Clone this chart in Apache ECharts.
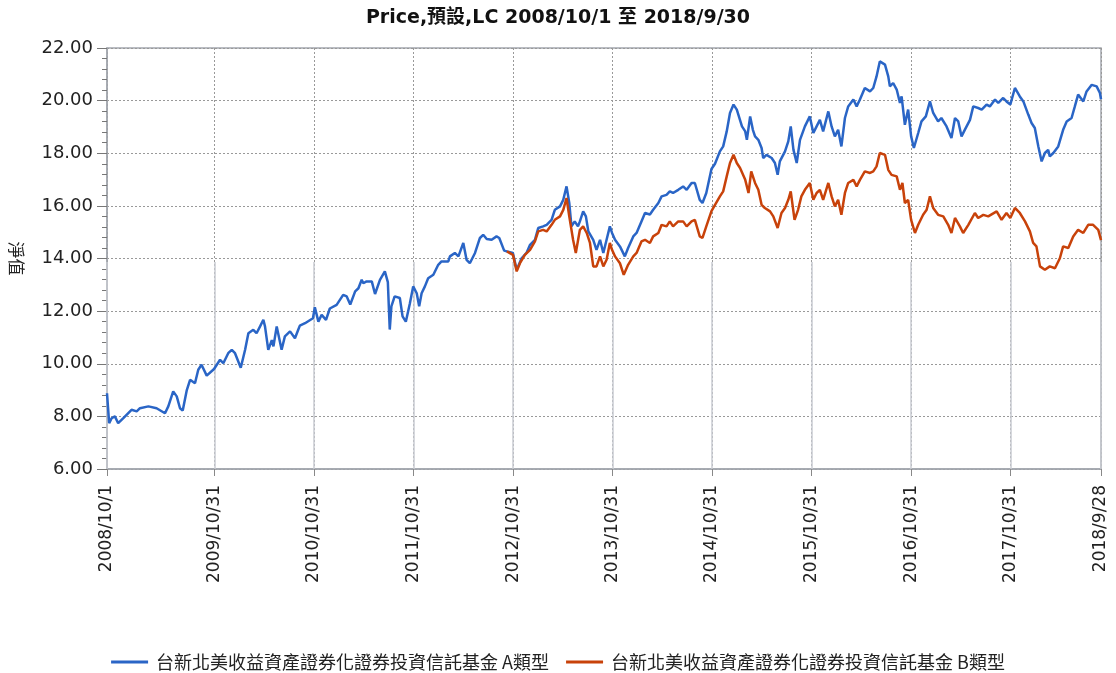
<!DOCTYPE html>
<html>
<head>
<meta charset="utf-8">
<title>Price</title>
<script src="https://cdn.jsdelivr.net/npm/echarts@6/dist/echarts.min.js"></script>
<style>
    html, body { margin: 0; padding: 0; background: #fff; }
    #chart { width: 1116px; height: 673px; }
</style>
</head>
<body>
<div id="chart"></div>
<script>
const chartTitle = 'Price,預設,LC 2008/10/1 至 2018/9/30';
const seriesNames = ['台新北美收益資產證券化證券投資信託基金 A類型', '台新北美收益資產證券化證券投資信託基金 B類型'];
const startDate = '2008/10/1';
const endDate = '2018/9/28';
const xTickDates = ['2008/10/1', '2009/10/31', '2010/10/31', '2011/10/31', '2012/10/31', '2013/10/31',
    '2014/10/31', '2015/10/31', '2016/10/31', '2017/10/31', '2018/9/28'];
const yMin = 6, yMax = 22, yStep = 2;

// A類型 net value
const navA = [
    ['2008/10/1', 8.88], ['2008/10/9', 7.74], ['2008/10/18', 7.93], ['2008/10/30', 8.0], ['2008/11/11', 7.74],
    ['2008/11/30', 7.93], ['2008/12/30', 8.25], ['2009/1/18', 8.19], ['2009/1/30', 8.31], ['2009/3/2', 8.38],
    ['2009/4/1', 8.31], ['2009/5/2', 8.12], ['2009/5/14', 8.38], ['2009/6/1', 8.95], ['2009/6/14', 8.76],
    ['2009/6/26', 8.31], ['2009/7/6', 8.22], ['2009/7/21', 9.0], ['2009/8/2', 9.39], ['2009/8/20', 9.26],
    ['2009/9/1', 9.77], ['2009/9/13', 9.96], ['2009/10/2', 9.55], ['2009/10/29', 9.8], ['2009/11/20', 10.15],
    ['2009/12/2', 10.02], ['2009/12/20', 10.4], ['2010/1/2', 10.53], ['2010/1/14', 10.4], ['2010/2/4', 9.85],
    ['2010/2/20', 10.53], ['2010/3/4', 11.16], ['2010/3/22', 11.29], ['2010/4/3', 11.16], ['2010/4/16', 11.42],
    ['2010/4/28', 11.67], ['2010/5/4', 11.42], ['2010/5/16', 10.53], ['2010/5/29', 10.9], ['2010/6/4', 10.66],
    ['2010/6/16', 11.42], ['2010/7/4', 10.53], ['2010/7/16', 11.04], ['2010/8/4', 11.23], ['2010/8/22', 10.97],
    ['2010/9/3', 11.29], ['2010/9/9', 11.45], ['2010/9/28', 11.54], ['2010/10/27', 11.73], ['2010/11/3', 12.15],
    ['2010/11/16', 11.6], ['2010/11/28', 11.86], ['2010/12/14', 11.67], ['2010/12/28', 12.1], ['2011/1/22', 12.24],
    ['2011/2/15', 12.62], ['2011/2/28', 12.56], ['2011/3/13', 12.25], ['2011/3/31', 12.75], ['2011/4/12', 12.87],
    ['2011/4/24', 13.19], ['2011/4/30', 13.06], ['2011/5/12', 13.13], ['2011/5/31', 13.13], ['2011/6/12', 12.65],
    ['2011/6/30', 13.19], ['2011/7/18', 13.51], ['2011/7/29', 13.1], ['2011/8/3', 11.8], ['2011/8/5', 11.3],
    ['2011/8/11', 12.18], ['2011/8/23', 12.56], ['2011/8/30', 12.62], ['2011/9/11', 12.5], ['2011/9/21', 11.8],
    ['2011/10/3', 11.6], ['2011/10/18', 12.3], ['2011/10/30', 12.94], ['2011/11/12', 12.68], ['2011/11/21', 12.18],
    ['2011/11/30', 12.68], ['2011/12/12', 12.94], ['2011/12/24', 13.25], ['2012/1/12', 13.38], ['2012/1/30', 13.76],
    ['2012/2/11', 13.89], ['2012/3/7', 13.89], ['2012/3/13', 14.08], ['2012/3/31', 14.21], ['2012/4/13', 14.08],
    ['2012/5/1', 14.59], ['2012/5/13', 13.95], ['2012/5/25', 13.82], ['2012/6/13', 14.21], ['2012/7/1', 14.78],
    ['2012/7/13', 14.9], ['2012/7/26', 14.74], ['2012/8/13', 14.71], ['2012/8/31', 14.84], ['2012/9/10', 14.78],
    ['2012/9/28', 14.3], ['2012/10/8', 14.27], ['2012/10/30', 14.21], ['2012/11/13', 13.57], ['2012/12/1', 14.01],
    ['2012/12/19', 14.21], ['2013/1/1', 14.52], ['2013/1/19', 14.71], ['2013/1/31', 15.16], ['2013/2/18', 15.22],
    ['2013/3/3', 15.28], ['2013/3/21', 15.47], ['2013/4/2', 15.85], ['2013/4/21', 15.98], ['2013/5/3', 16.23],
    ['2013/5/15', 16.74], ['2013/5/25', 16.11], ['2013/6/2', 15.22], ['2013/6/14', 15.41], ['2013/6/26', 15.22],
    ['2013/7/3', 15.41], ['2013/7/15', 15.79], ['2013/7/25', 15.6], ['2013/8/3', 15.03], ['2013/8/21', 14.71],
    ['2013/9/2', 14.33], ['2013/9/15', 14.71], ['2013/9/27', 14.21], ['2013/10/9', 14.71], ['2013/10/21', 15.22],
    ['2013/10/29', 14.97], ['2013/11/9', 14.71], ['2013/11/27', 14.46], ['2013/12/15', 14.08], ['2013/12/27', 14.4],
    ['2014/1/15', 14.84], ['2014/1/27', 14.97], ['2014/2/14', 15.41], ['2014/2/27', 15.73], ['2014/3/17', 15.67],
    ['2014/3/29', 15.85], ['2014/4/17', 16.11], ['2014/4/29', 16.36], ['2014/5/17', 16.42], ['2014/5/29', 16.55],
    ['2014/6/10', 16.49], ['2014/6/29', 16.61], ['2014/7/17', 16.74], ['2014/7/30', 16.61], ['2014/8/17', 16.87],
    ['2014/8/29', 16.87], ['2014/9/16', 16.23], ['2014/9/26', 16.11], ['2014/10/10', 16.49], ['2014/10/29', 17.4],
    ['2014/11/11', 17.6], ['2014/11/29', 18.07], ['2014/12/11', 18.26], ['2014/12/24', 18.83], ['2015/1/5', 19.53],
    ['2015/1/18', 19.85], ['2015/1/30', 19.66], ['2015/2/18', 19.02], ['2015/3/2', 18.83], ['2015/3/8', 18.51],
    ['2015/3/20', 19.4], ['2015/3/30', 18.89], ['2015/4/7', 18.64], ['2015/4/19', 18.51], ['2015/5/1', 18.2],
    ['2015/5/7', 17.82], ['2015/5/19', 17.94], ['2015/6/7', 17.82], ['2015/6/19', 17.63], ['2015/6/29', 17.18],
    ['2015/7/7', 17.69], ['2015/7/26', 18.07], ['2015/8/7', 18.45], ['2015/8/16', 19.02], ['2015/8/26', 18.13],
    ['2015/9/7', 17.63], ['2015/9/19', 18.51], ['2015/10/7', 19.02], ['2015/10/25', 19.4], ['2015/11/7', 18.77],
    ['2015/11/19', 19.02], ['2015/12/1', 19.27], ['2015/12/13', 18.83], ['2016/1/1', 19.59], ['2016/1/13', 19.02],
    ['2016/1/25', 18.64], ['2016/2/6', 18.89], ['2016/2/18', 18.26], ['2016/3/2', 19.34], ['2016/3/14', 19.78],
    ['2016/4/2', 20.04], ['2016/4/14', 19.78], ['2016/4/26', 20.04], ['2016/5/14', 20.48], ['2016/6/2', 20.35],
    ['2016/6/14', 20.48], ['2016/6/26', 20.92], ['2016/7/8', 21.49], ['2016/7/14', 21.56], ['2016/7/27', 21.37],
    ['2016/8/8', 20.92], ['2016/8/14', 20.54], ['2016/8/26', 20.67], ['2016/9/8', 20.42], ['2016/9/20', 19.91],
    ['2016/9/26', 20.16], ['2016/10/8', 19.08], ['2016/10/20', 19.66], ['2016/10/31', 18.64], ['2016/11/10', 18.2],
    ['2016/11/26', 18.77], ['2016/12/8', 19.21], ['2016/12/24', 19.4], ['2017/1/8', 19.97], ['2017/1/20', 19.53],
    ['2017/2/7', 19.21], ['2017/2/19', 19.34], ['2017/3/10', 19.02], ['2017/3/28', 18.58], ['2017/4/10', 19.34],
    ['2017/4/22', 19.21], ['2017/5/4', 18.64], ['2017/5/16', 18.89], ['2017/6/4', 19.27], ['2017/6/16', 19.78],
    ['2017/7/4', 19.72], ['2017/7/17', 19.66], ['2017/8/4', 19.85], ['2017/8/16', 19.78], ['2017/9/4', 20.04],
    ['2017/9/16', 19.91], ['2017/10/4', 20.1], ['2017/10/16', 19.97], ['2017/10/30', 19.85], ['2017/11/16', 20.48],
    ['2017/12/4', 20.16], ['2017/12/17', 19.97], ['2018/1/4', 19.47], ['2018/1/16', 19.15], ['2018/1/28', 18.96],
    ['2018/2/10', 18.26], ['2018/2/22', 17.69], ['2018/3/6', 18.01], ['2018/3/18', 18.13], ['2018/3/24', 17.88],
    ['2018/4/6', 18.01], ['2018/4/24', 18.26], ['2018/5/12', 18.89], ['2018/5/25', 19.21], ['2018/6/12', 19.34],
    ['2018/6/24', 19.78], ['2018/7/6', 20.23], ['2018/7/25', 19.97], ['2018/8/6', 20.35], ['2018/8/25', 20.6],
    ['2018/9/12', 20.54], ['2018/9/24', 20.29], ['2018/9/28', 20.05]
];

// B類型 net value (starts Oct 2012)
const navB = [
    ['2012/10/8', 14.27], ['2012/10/30', 14.14], ['2012/11/13', 13.51], ['2012/11/25', 13.82], ['2012/12/13', 14.14],
    ['2013/1/1', 14.33], ['2013/1/19', 14.65], ['2013/1/31', 15.03], ['2013/2/18', 15.09], ['2013/3/3', 15.03],
    ['2013/3/21', 15.28], ['2013/4/2', 15.47], ['2013/4/21', 15.6], ['2013/5/3', 15.85], ['2013/5/15', 16.3],
    ['2013/5/25', 15.6], ['2013/6/8', 14.71], ['2013/6/18', 14.21], ['2013/7/3', 15.09], ['2013/7/15', 15.22],
    ['2013/7/28', 14.97], ['2013/8/9', 14.59], ['2013/8/21', 13.7], ['2013/9/2', 13.7], ['2013/9/15', 14.08],
    ['2013/9/27', 13.7], ['2013/10/9', 13.95], ['2013/10/21', 14.59], ['2013/10/29', 14.33], ['2013/11/9', 14.08],
    ['2013/11/27', 13.82], ['2013/12/11', 13.38], ['2013/12/27', 13.76], ['2014/1/15', 14.08], ['2014/1/27', 14.21],
    ['2014/2/14', 14.65], ['2014/2/27', 14.71], ['2014/3/17', 14.59], ['2014/3/29', 14.84], ['2014/4/17', 14.97],
    ['2014/4/29', 15.28], ['2014/5/17', 15.22], ['2014/5/29', 15.41], ['2014/6/10', 15.22], ['2014/6/29', 15.41],
    ['2014/7/17', 15.41], ['2014/7/30', 15.22], ['2014/8/17', 15.41], ['2014/8/29', 15.47], ['2014/9/16', 14.84],
    ['2014/9/26', 14.78], ['2014/10/10', 15.22], ['2014/10/29', 15.8], ['2014/11/11', 16.04], ['2014/11/29', 16.36],
    ['2014/12/11', 16.55], ['2014/12/24', 17.12], ['2015/1/5', 17.63], ['2015/1/18', 17.94], ['2015/1/30', 17.63],
    ['2015/2/11', 17.44], ['2015/3/2', 16.99], ['2015/3/14', 16.49], ['2015/3/24', 17.31], ['2015/4/7', 16.87],
    ['2015/4/19', 16.61], ['2015/5/1', 16.04], ['2015/5/13', 15.92], ['2015/6/1', 15.79], ['2015/6/13', 15.6],
    ['2015/6/29', 15.16], ['2015/7/13', 15.73], ['2015/7/26', 15.92], ['2015/8/7', 16.23], ['2015/8/16', 16.55],
    ['2015/8/30', 15.47], ['2015/9/12', 15.85], ['2015/9/24', 16.36], ['2015/10/7', 16.61], ['2015/10/25', 16.87],
    ['2015/11/7', 16.23], ['2015/11/19', 16.49], ['2015/12/1', 16.61], ['2015/12/13', 16.23], ['2016/1/1', 16.87],
    ['2016/1/13', 16.36], ['2016/1/25', 15.98], ['2016/2/6', 16.23], ['2016/2/18', 15.66], ['2016/3/2', 16.49],
    ['2016/3/14', 16.87], ['2016/4/2', 16.99], ['2016/4/14', 16.74], ['2016/4/26', 16.99], ['2016/5/14', 17.31],
    ['2016/6/2', 17.25], ['2016/6/14', 17.31], ['2016/6/26', 17.5], ['2016/7/8', 18.01], ['2016/7/14', 18.07],
    ['2016/7/27', 17.94], ['2016/8/8', 17.37], ['2016/8/20', 17.18], ['2016/9/8', 17.12], ['2016/9/20', 16.61],
    ['2016/9/29', 16.87], ['2016/10/8', 16.11], ['2016/10/20', 16.23], ['2016/10/31', 15.47], ['2016/11/14', 14.97],
    ['2016/11/26', 15.28], ['2016/12/14', 15.66], ['2016/12/27', 15.85], ['2017/1/8', 16.36], ['2017/1/20', 15.92],
    ['2017/2/7', 15.66], ['2017/2/26', 15.6], ['2017/3/16', 15.28], ['2017/3/28', 14.97], ['2017/4/10', 15.54],
    ['2017/4/28', 15.22], ['2017/5/10', 14.97], ['2017/5/29', 15.28], ['2017/6/22', 15.73], ['2017/7/4', 15.54],
    ['2017/7/23', 15.66], ['2017/8/10', 15.6], ['2017/9/10', 15.79], ['2017/9/28', 15.47], ['2017/10/16', 15.73],
    ['2017/10/30', 15.54], ['2017/11/16', 15.92], ['2017/12/4', 15.73], ['2017/12/23', 15.41], ['2018/1/10', 15.03],
    ['2018/1/22', 14.59], ['2018/2/3', 14.46], ['2018/2/16', 13.7], ['2018/3/6', 13.57], ['2018/3/24', 13.7],
    ['2018/4/12', 13.63], ['2018/4/30', 14.01], ['2018/5/12', 14.46], ['2018/5/31', 14.4], ['2018/6/18', 14.84],
    ['2018/7/6', 15.09], ['2018/7/25', 14.97], ['2018/8/12', 15.28], ['2018/8/30', 15.28], ['2018/9/18', 15.09],
    ['2018/9/28', 14.7]
];

const colors = ['#2a65c6', '#c8420a'];

function toTime(s) {
    const p = s.split('/').map(Number);
    return new Date(p[0], p[1] - 1, p[2]).getTime();
}

function fmtDate(v) {
    const d = new Date(v);
    return d.getFullYear() + '/' + (d.getMonth() + 1) + '/' + d.getDate();
}

const tickTimes = xTickDates.map(toTime);
const fontLatin = 'DejaVu Sans, Noto Sans CJK TC, sans-serif';
const fontCjk = 'Noto Sans CJK TC, DejaVu Sans, sans-serif';

const chart = echarts.init(document.getElementById('chart'));

// x uses a value axis over timestamps so the irregular date ticks can be set directly
const option = {
    animation: false,
    title: {
        text: chartTitle,
        left: 'center',
        top: 4,
        textStyle: { fontFamily: fontLatin, fontSize: 19, fontWeight: 'bold', color: '#111' }
    },
    legend: {
        top: 648,
        left: 'center',
        itemWidth: 37,
        itemHeight: 3,
        itemGap: 17,
        icon: 'rect',
        textStyle: { fontFamily: fontCjk, fontSize: 18, color: '#222', padding: [0, 0, 0, 3] },
        data: seriesNames
    },
    grid: {
        left: 107, right: 15, top: 48, bottom: 204,
        show: true, borderColor: '#a3a7ae', borderWidth: 1.5
    },
    xAxis: [{
        type: 'value',
        min: toTime(startDate),
        max: toTime(endDate),
        axisLine: { lineStyle: { color: '#a3a7ae', width: 1.5 } },
        axisTick: { customValues: tickTimes, length: 7, lineStyle: { color: '#888' } },
        axisLabel: {
            customValues: tickTimes,
            rotate: 90,
            margin: 16,
            fontFamily: fontLatin,
            fontSize: 17,
            color: '#222',
            formatter: fmtDate
        },
        splitLine: { show: true, lineStyle: { type: [2, 2], color: '#999', width: 1 } }
    }, {
        // solid lower part of the vertical grid lines
        type: 'value',
        position: 'bottom',
        min: toTime(startDate),
        max: toTime(endDate),
        axisLine: { show: false },
        axisLabel: { show: false },
        axisTick: { customValues: tickTimes, inside: true, length: 207, lineStyle: { color: '#c9ccd2', width: 1.5 } },
        splitLine: { show: false }
    }],
    yAxis: {
        type: 'value',
        min: yMin,
        max: yMax,
        interval: yStep,
        name: '淨值',
        nameLocation: 'middle',
        nameRotate: -90,
        nameGap: 82,
        nameTextStyle: { fontFamily: fontCjk, fontSize: 17, color: '#222' },
        axisLine: { show: true, lineStyle: { color: '#a3a7ae', width: 1.5 } },
        axisTick: { show: true, length: 10, lineStyle: { color: '#777' } },
        minorTick: { show: true, splitNumber: 5, length: 5, lineStyle: { color: '#777' } },
        axisLabel: {
            margin: 14,
            fontFamily: fontLatin,
            fontSize: 18,
            color: '#222',
            formatter: v => v.toFixed(2)
        },
        splitLine: { show: true, lineStyle: { type: [2, 2], color: '#999', width: 1 } }
    },
    series: [{
        name: seriesNames[0],
        type: 'line',
        showSymbol: false,
        color: colors[0],
        lineStyle: { width: 2.5 },
        data: navA.map(d => [toTime(d[0]), d[1]])
    }, {
        name: seriesNames[1],
        type: 'line',
        showSymbol: false,
        color: colors[1],
        lineStyle: { width: 2.5 },
        data: navB.map(d => [toTime(d[0]), d[1]])
    }]
};

chart.setOption(option);
</script>
</body>
</html>
